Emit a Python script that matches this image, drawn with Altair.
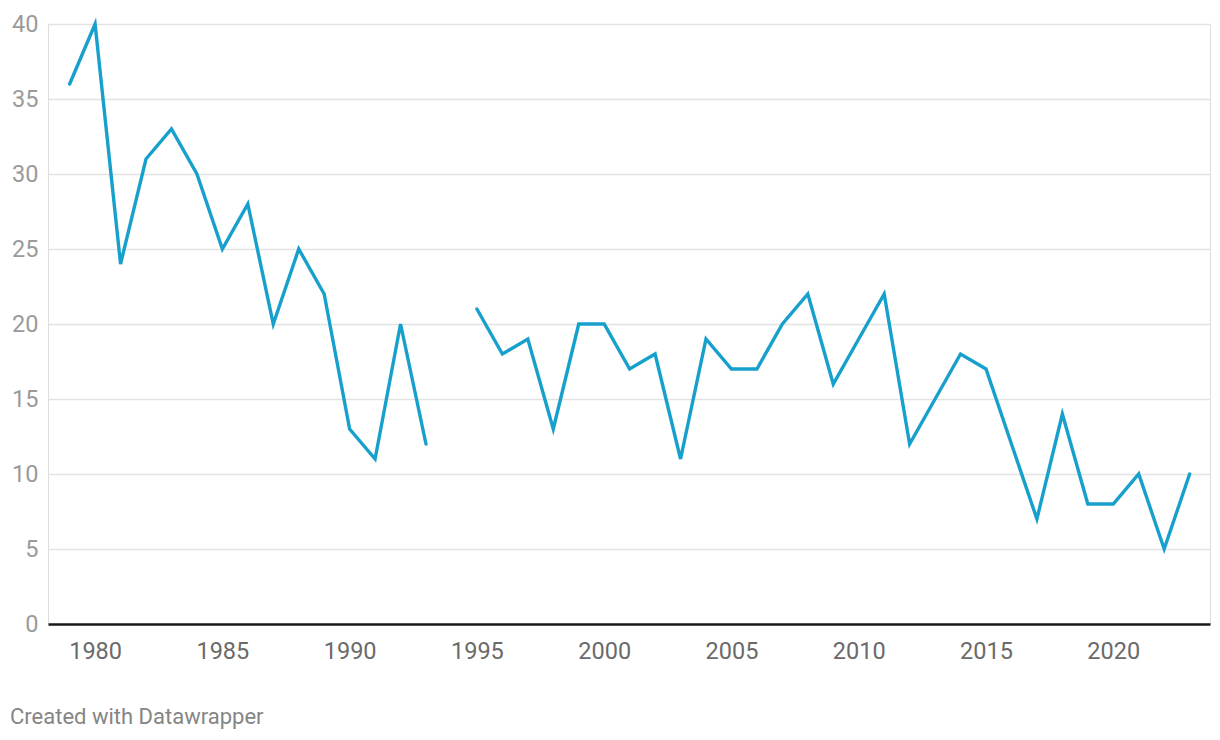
import altair as alt
import pandas as pd

years = list(range(1979, 2024))
values = [36, 40, 24, 31, 33, 30, 25, 28, 20, 25, 22, 13, 11, 20, 12, None,
          21, 18, 19, 13, 20, 20, 17, 18, 11, 19, 17, 17, 20, 22, 16, 19, 22,
          12, 15, 18, 17, 12, 7, 14, 8, 8, 10, 5, 10]
x_ticks = [1980, 1985, 1990, 1995, 2000, 2005, 2010, 2015, 2020]
y_ticks = [0, 5, 10, 15, 20, 25, 30, 35, 40]
footer = ["Created with Datawrapper"]

df = pd.DataFrame({"year": years, "value": values})

W, H = 1162, 600
FONT = "Roboto"

line = alt.Chart(df).mark_line(color="#18a0cd", strokeWidth=3.4, strokeJoin="miter", strokeCap="round").encode(
    x=alt.X("year:Q",
            scale=alt.Scale(domain=[1978.15, 2023.8], nice=False, zero=False),
            axis=alt.Axis(values=x_ticks, format="d", title=None, grid=False, ticks=False,
                          domain=True, domainColor="#1a1a1a", domainWidth=2.5,
                          labelFont=FONT, labelFontSize=23.5, labelColor="#6a6a6a",
                          labelPadding=15, labelBaseline="top")),
    y=alt.Y("value:Q",
            scale=alt.Scale(domain=[0, 40], nice=False),
            axis=alt.Axis(values=y_ticks, title=None, grid=True, gridColor="#e3e3e3",
                          gridWidth=1.5, ticks=False, domain=False,
                          labelFont=FONT, labelFontSize=23.5, labelColor="#9a9a9a",
                          labelPadding=10, labelAlign="right", labelBaseline="middle")),
)

foot = alt.Chart(pd.DataFrame({"t": footer})).mark_text(
    align="left", baseline="middle", font=FONT, fontSize=22, color="#858585"
).encode(text="t:N", x=alt.value(-38), y=alt.value(H + 93))

chart = alt.layer(line, foot).properties(
    width=W, height=H,
    autosize=alt.AutoSizeParams(type="none"),
    padding={"left": 40, "top": 16, "right": 2, "bottom": 108},
).configure_view(strokeWidth=0).configure(background="white")

chart.save("out.html", embed_options={"renderer": "svg", "actions": False})
